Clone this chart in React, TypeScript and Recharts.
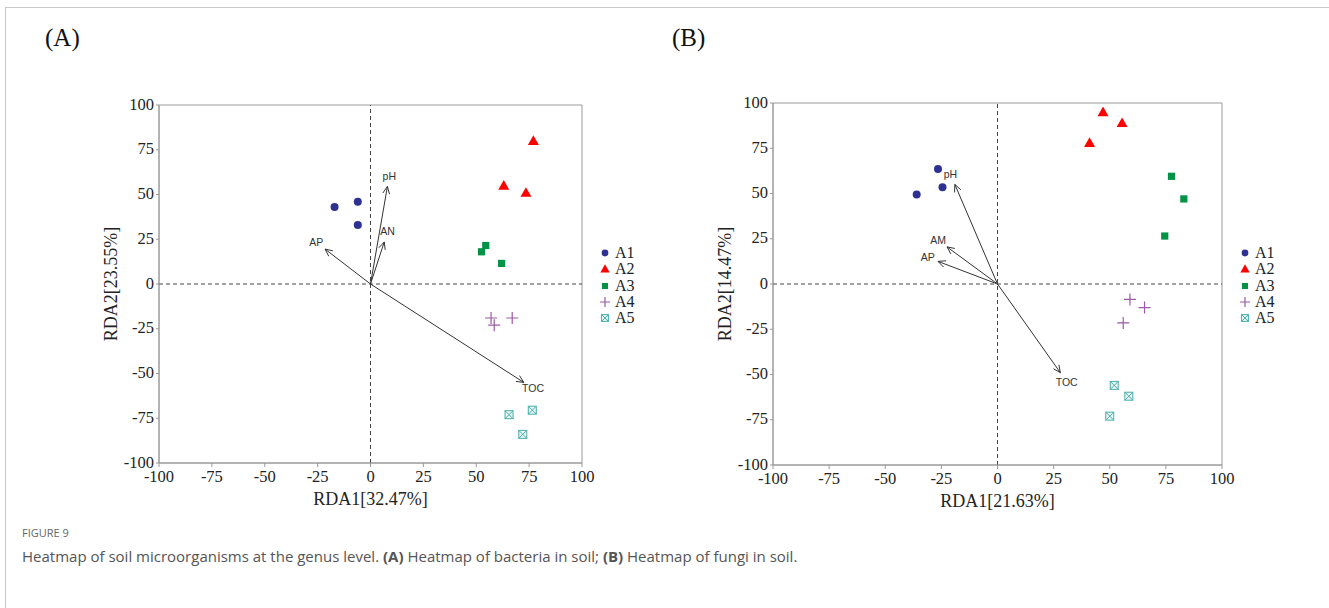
import React from "react";
import {
  ScatterChart,
  Scatter,
  XAxis,
  YAxis,
  ReferenceLine,
  ReferenceArea,
  Legend,
  Label,
} from "recharts";

const groups = ["A1", "A2", "A3", "A4", "A5"];
const groupColors = ["#2e3192", "#ff0000", "#009245", "#9b59a6", "#4aaea8"];
const axisTicks = [-100, -75, -50, -25, 0, 25, 50, 75, 100];

// (A) bacteria
const bacA1 = [{ x: -17, y: 43 }, { x: -6, y: 46 }, { x: -6, y: 33 }];
const bacA2 = [{ x: 77, y: 80 }, { x: 63, y: 55 }, { x: 73.5, y: 51 }];
const bacA3 = [{ x: 54.5, y: 21.5 }, { x: 52.5, y: 18 }, { x: 62, y: 11.5 }];
const bacA4 = [{ x: 57, y: -19 }, { x: 58.5, y: -23 }, { x: 67, y: -19 }];
const bacA5 = [{ x: 65.5, y: -73 }, { x: 76.5, y: -70.5 }, { x: 72, y: -84 }];
const bacEnvNames = ["pH", "AN", "AP", "TOC"];
const bacEnvX = [8, 6.5, -21.5, 72.5];
const bacEnvY = [54.5, 23.5, 19.5, -55];

// (B) fungi
const funA1 = [{ x: -26.5, y: 63.5 }, { x: -24.5, y: 53.5 }, { x: -36, y: 49.5 }];
const funA2 = [{ x: 47, y: 95 }, { x: 55.5, y: 89 }, { x: 41, y: 78 }];
const funA3 = [{ x: 77.5, y: 59.5 }, { x: 83, y: 47 }, { x: 74.5, y: 26.5 }];
const funA4 = [{ x: 59, y: -8.5 }, { x: 65.5, y: -13 }, { x: 56, y: -21.5 }];
const funA5 = [{ x: 52, y: -56 }, { x: 58.5, y: -62 }, { x: 50, y: -73 }];
const funEnvNames = ["pH", "AM", "AP", "TOC"];
const funEnvX = [-19, -22.5, -26.5, 28];
const funEnvY = [55, 20.5, 12.5, -49];

const serif = "'Liberation Serif', 'Times New Roman', serif";

function Marker({ group, cx, cy, small }: { group: string; cx: number; cy: number; small?: boolean }) {
  const k = small ? 0.85 : 1;
  const c = groupColors[groups.indexOf(group)];
  if (group === "A1") return <circle cx={cx} cy={cy} r={4 * k} fill={c} />;
  if (group === "A2") {
    const s = 5.5 * k;
    return (
      <polygon
        points={`${cx},${cy - s} ${cx + s},${cy + s * 0.75} ${cx - s},${cy + s * 0.75}`}
        fill={c}
      />
    );
  }
  if (group === "A3") {
    const s = 3.6 * k;
    return <rect x={cx - s} y={cy - s} width={2 * s} height={2 * s} fill={c} />;
  }
  if (group === "A4") {
    const s = 6 * k;
    return (
      <path
        d={`M${cx - s},${cy}H${cx + s}M${cx},${cy - s}V${cy + s}`}
        stroke={c}
        strokeWidth={1.2}
        fill="none"
      />
    );
  }
  const s = 4 * k;
  return (
    <g stroke={c} strokeWidth={1} fill="#eaf6f5">
      <rect x={cx - s} y={cy - s} width={2 * s} height={2 * s} />
      <path d={`M${cx - s},${cy - s}L${cx + s},${cy + s}M${cx + s},${cy - s}L${cx - s},${cy + s}`} fill="none" />
    </g>
  );
}

function arrowShape(name: string) {
  return (props: any) => {
    const { x1, y1, x2, y2 } = props;
    const dx = x2 - x1;
    const dy = y2 - y1;
    const len = Math.sqrt(dx * dx + dy * dy) || 1;
    const ux = dx / len;
    const uy = dy / len;
    const head = 8;
    const a = (25 * Math.PI) / 180;
    const hx1 = x2 - head * (ux * Math.cos(a) - uy * Math.sin(a));
    const hy1 = y2 - head * (uy * Math.cos(a) + ux * Math.sin(a));
    const hx2 = x2 - head * (ux * Math.cos(a) + uy * Math.sin(a));
    const hy2 = y2 - head * (uy * Math.cos(a) - ux * Math.sin(a));
    return (
      <g>
        <line x1={x1} y1={y1} x2={x2} y2={y2} stroke="#333" strokeWidth={1} />
        <polyline points={`${hx1},${hy1} ${x2},${y2} ${hx2},${hy2}`} stroke="#333" strokeWidth={1} fill="none" />
        <text
          x={x2 + ux * 11}
          y={y2 + uy * 11}
          textAnchor="middle"
          dominantBaseline="central"
          fontFamily="'Liberation Sans', Arial, sans-serif"
          fontSize={10.5}
          fill="#333"
        >
          {name}
        </text>
      </g>
    );
  };
}

function XTick({ x, y, payload }: any) {
  return (
    <text x={x} y={y + 14} textAnchor="middle" fontFamily={serif} fontSize={16.5} fill="#222">
      {payload.value}
    </text>
  );
}

function YTick({ x, y, payload }: any) {
  return (
    <text x={x} y={y - 1} textAnchor="end" dominantBaseline="central" fontFamily={serif} fontSize={16.5} fill="#222">
      {payload.value}
    </text>
  );
}

function LegendBox() {
  return (
    <div style={{ fontFamily: serif, fontSize: 16, color: "#222", lineHeight: "16.3px" }}>
      {groups.map((g) => (
        <div key={g} style={{ display: "flex", alignItems: "center", height: 16.3 }}>
          <svg width={14} height={14} style={{ marginRight: 3 }}>
            <Marker group={g} cx={7} cy={7} small />
          </svg>
          <span>{g}</span>
        </div>
      ))}
    </div>
  );
}

function RdaPanel({
  series,
  envNames,
  envX,
  envY,
  xTitle,
  yTitle,
  width,
  margin,
}: {
  series: { x: number; y: number }[][];
  envNames: string[];
  envX: number[];
  envY: number[];
  xTitle: string;
  yTitle: string;
  width: number;
  margin: { top: number; right: number; bottom: number; left: number };
}) {
  return (
    <ScatterChart width={width} height={540} margin={margin}>
      <XAxis
        type="number"
        dataKey="x"
        domain={[-100, 100]}
        ticks={axisTicks}
        allowDataOverflow
        height={50}
        tickSize={4}
        tickMargin={1}
        tick={<XTick />}
        axisLine={{ stroke: "#9a9a9a" }}
        tickLine={{ stroke: "#9a9a9a" }}
        interval={0}
      >
        <Label
          content={({ viewBox }: any) => (
            <text
              x={viewBox.x + viewBox.width / 2}
              y={viewBox.y + 42}
              textAnchor="middle"
              fontFamily={serif}
              fontSize={18}
              fill="#222"
            >
              {xTitle}
            </text>
          )}
        />
      </XAxis>
      <YAxis
        type="number"
        dataKey="y"
        domain={[-100, 100]}
        ticks={axisTicks}
        allowDataOverflow
        width={60}
        tickSize={3}
        tickMargin={2}
        tick={<YTick />}
        axisLine={{ stroke: "#9a9a9a" }}
        tickLine={{ stroke: "#9a9a9a" }}
        interval={0}
      >
        <Label
          content={({ viewBox }: any) => {
            const cx = viewBox.x + 12;
            const cy = viewBox.y + viewBox.height / 2;
            return (
              <text
                x={cx}
                y={cy}
                transform={`rotate(-90 ${cx} ${cy})`}
                textAnchor="middle"
                dominantBaseline="central"
                fontFamily={serif}
                fontSize={18}
                fill="#222"
              >
                {yTitle}
              </text>
            );
          }}
        />
      </YAxis>
      <ReferenceArea x1={-100} x2={100} y1={-100} y2={100} fill="none" stroke="#9a9a9a" strokeWidth={1} />
      <ReferenceLine x={0} stroke="#444" strokeDasharray="4 3" />
      <ReferenceLine y={0} stroke="#444" strokeDasharray="4 3" />
      {envNames.map((n, i) => (
        <ReferenceLine
          key={n}
          segment={[
            { x: 0, y: 0 },
            { x: envX[i], y: envY[i] },
          ]}
          shape={arrowShape(n)}
        />
      ))}
      {series.map((d, i) => (
        <Scatter
          key={groups[i]}
          name={groups[i]}
          data={d}
          fill={groupColors[i]}
          isAnimationActive={false}
          shape={(p: any) => <Marker group={groups[i]} cx={p.cx} cy={p.cy} />}
        />
      ))}
      <Legend
        layout="horizontal"
        verticalAlign="middle"
        align="center"
        content={() => <LegendBox />}
        wrapperStyle={{ left: 598, top: 245, width: 60, height: 84 }}
      />
    </ScatterChart>
  );
}

export default function App() {
  return (
    <div
      style={{
        position: "absolute",
        left: 0,
        top: 0,
        width: 1329,
        height: 608,
        background: "#fff",
        overflow: "hidden",
      }}
    >
      <div
        style={{
          position: "absolute",
          left: 5,
          top: 7,
          right: -2,
          bottom: -2,
          borderTop: "1px solid #c8c8c8",
          borderLeft: "1px solid #c8c8c8",
        }}
      />
      <div style={{ position: "absolute", left: 45, top: 24, fontFamily: serif, fontSize: 25, color: "#111" }}>(A)</div>
      <div style={{ position: "absolute", left: 672, top: 24, fontFamily: serif, fontSize: 25, color: "#111" }}>(B)</div>
      <div style={{ position: "absolute", left: 0, top: 0 }}>
        <RdaPanel
          series={[bacA1, bacA2, bacA3, bacA4, bacA5]}
          envNames={bacEnvNames}
          envX={bacEnvX}
          envY={bacEnvY}
          xTitle="RDA1[32.47%]"
          yTitle="RDA2[23.55%]"
          width={680}
          margin={{ top: 105, right: 98, bottom: 27, left: 99 }}
        />
      </div>
      <div style={{ position: "absolute", left: 640, top: 0 }}>
        <RdaPanel
          series={[funA1, funA2, funA3, funA4, funA5]}
          envNames={funEnvNames}
          envX={funEnvX}
          envY={funEnvY}
          xTitle="RDA1[21.63%]"
          yTitle="RDA2[14.47%]"
          width={689}
          margin={{ top: 103, right: 107, bottom: 25, left: 73 }}
        />
      </div>
      <div
        style={{
          position: "absolute",
          left: 22,
          top: 525,
          fontFamily: "'Open Sans', 'Noto Sans', sans-serif",
          fontSize: 11,
          color: "#666",
        }}
      >
        FIGURE 9
      </div>
      <div
        style={{
          position: "absolute",
          left: 22,
          top: 546,
          fontFamily: "'Open Sans', 'Noto Sans', sans-serif",
          fontSize: 15,
          color: "#555",
          whiteSpace: "nowrap",
        }}
      >
        Heatmap of soil microorganisms at the genus level. <b>(A)</b> Heatmap of bacteria in soil; <b>(B)</b> Heatmap of fungi in soil.
      </div>
    </div>
  );
}
